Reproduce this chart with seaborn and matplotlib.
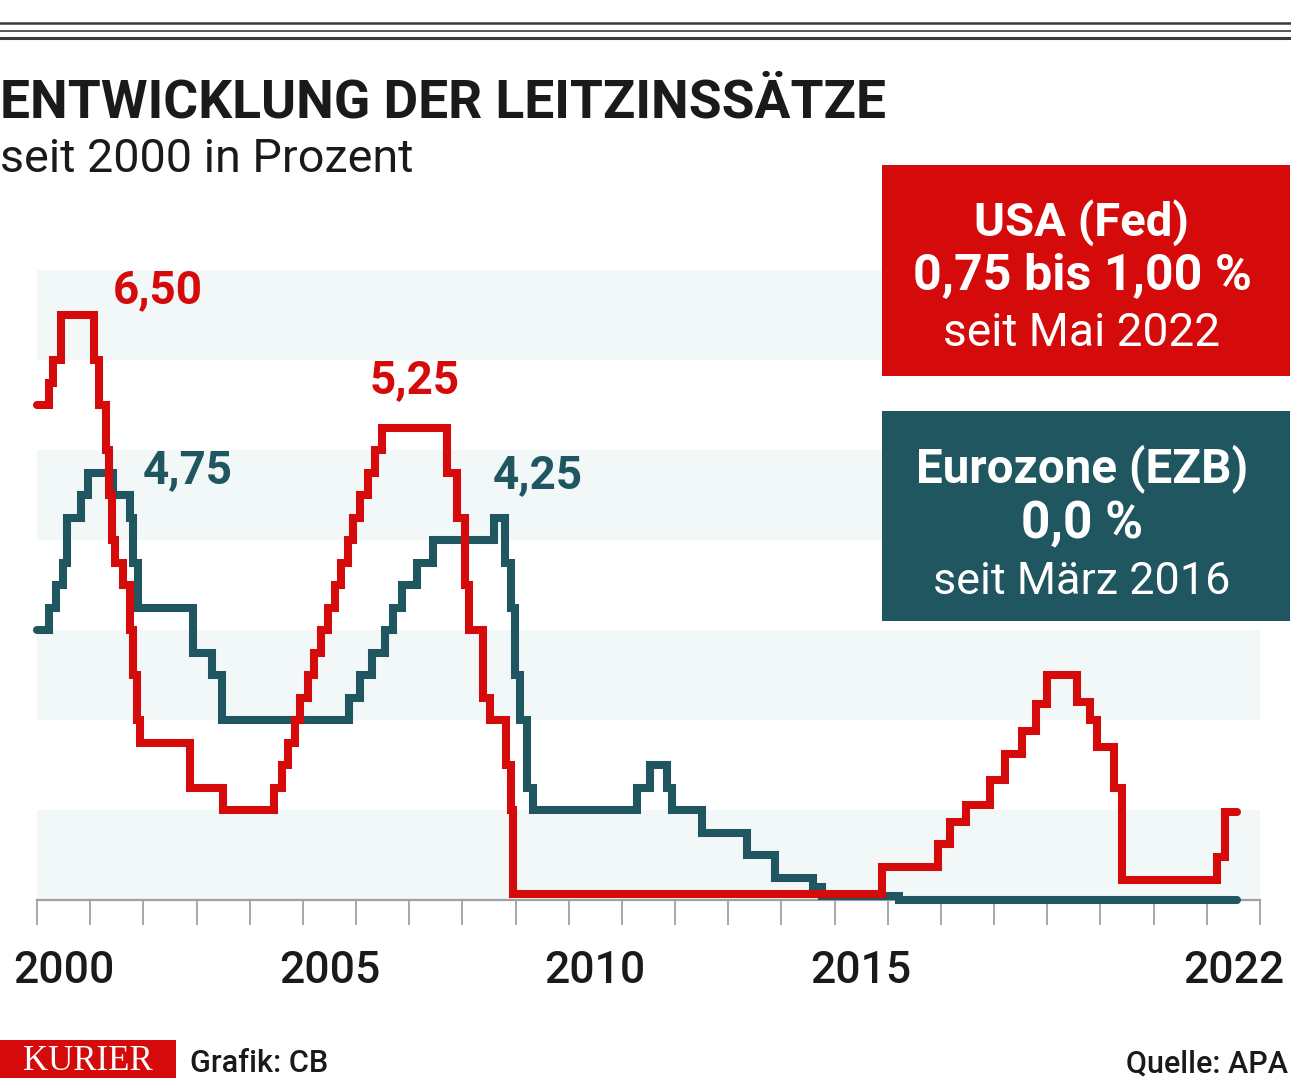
import matplotlib
matplotlib.use("Agg")
import matplotlib.pyplot as plt
import matplotlib.transforms as mtransforms
from matplotlib.patches import Rectangle
from matplotlib.lines import Line2D
import seaborn as sns
import pandas as pd

# ---------------- data ----------------
fed_x = [2000.00, 2000.22, 2000.30, 2000.45, 2001.08, 2001.17, 2001.30, 2001.36,
         2001.41, 2001.47, 2001.62, 2001.75, 2001.80, 2001.88, 2001.94, 2002.88,
         2003.50, 2004.45, 2004.60, 2004.72, 2004.86, 2004.95, 2005.09, 2005.21,
         2005.34, 2005.48, 2005.60, 2005.72, 2005.84, 2005.95, 2006.08, 2006.22,
         2006.35, 2006.48, 2007.71, 2007.89, 2008.05, 2008.12, 2008.38, 2008.52,
         2008.82, 2008.92, 2008.96, 2015.90, 2016.95, 2017.17, 2017.48, 2017.93,
         2018.20, 2018.52, 2018.78, 2019.00, 2019.55, 2019.81, 2019.94, 2020.25,
         2020.40, 2022.20, 2022.35, 2022.56]
fed_y = [5.50, 5.75, 6.00, 6.50, 6.00, 5.50, 5.00, 4.50,
         4.00, 3.75, 3.50, 3.00, 2.50, 2.00, 1.75, 1.25,
         1.00, 1.25, 1.50, 1.75, 2.00, 2.25, 2.50, 2.75,
         3.00, 3.25, 3.50, 3.75, 4.00, 4.25, 4.50, 4.75,
         5.00, 5.25, 4.75, 4.25, 3.50, 3.00, 2.25, 2.00,
         1.50, 1.00, 0.07, 0.37, 0.62, 0.87, 1.06, 1.33,
         1.62, 1.88, 2.18, 2.50, 2.20, 2.00, 1.70, 1.25,
         0.22, 0.48, 0.98, 0.98]

ezb_x = [2000.00, 2000.23, 2000.36, 2000.48, 2000.57, 2000.83, 2000.95, 2001.43,
         2001.74, 2001.80, 2001.90, 2002.93, 2003.29, 2003.47, 2005.87, 2006.07,
         2006.30, 2006.54, 2006.70, 2006.86, 2007.14, 2007.44, 2008.60, 2008.80,
         2008.92, 2008.99, 2009.08, 2009.21, 2009.32, 2011.28, 2011.52, 2011.84,
         2011.94, 2012.50, 2013.35, 2013.88, 2014.59, 2014.77, 2016.22, 2022.56]
ezb_y = [3.00, 3.25, 3.50, 3.75, 4.25, 4.50, 4.75, 4.50,
         4.25, 3.75, 3.25, 2.75, 2.50, 2.00, 2.25, 2.50,
         2.75, 3.00, 3.25, 3.50, 3.75, 4.00, 4.25, 3.75,
         3.25, 2.50, 2.00, 1.25, 1.00, 1.25, 1.50, 1.25,
         1.00, 0.75, 0.50, 0.25, 0.15, 0.05, 0.00, 0.00]

year_ticks = list(range(2000, 2024))
year_labels = ["2000", "2005", "2010", "2015", "2022"]

peak_labels = ["6,50", "5,25", "4,75", "4,25"]
peak_x = [2001.43, 2006.26, 2001.99, 2008.57]
peak_y = [6.63, 5.63, 4.63, 4.58]

title = "ENTWICKLUNG DER LEITZINSSÄTZE"
subtitle = "seit 2000 in Prozent"
usa_lines = ["USA (Fed)", "0,75 bis 1,00 %", "seit Mai 2022"]
ezb_lines = ["Eurozone (EZB)", "0,0 %", "seit März 2016"]

# ---------------- style ----------------
RED = "#d50b0b"
TEAL = "#1f5660"
BAND = "#f2f7f8"
DARK = "#1a1a1a"
GRAY = "#a0a0a0"

sns.set_theme(style="white")
plt.rcParams["font.family"] = ["Roboto", "DejaVu Sans"]

W, H = 1291, 1080
fig = plt.figure(figsize=(W / 100, H / 100), dpi=100)
fig.patch.set_facecolor("white")
renderer = fig.canvas.get_renderer()


def fy(y):
    return 1 - y / H


def fit_text(x, y, s, width, ha="left", weight="normal", color=DARK, family=None):
    kw = {}
    if family is not None:
        kw["family"] = family
    t = fig.text(x / W, fy(y), s, ha=ha, va="baseline", fontsize=20,
                 fontweight=weight, color=color, **kw)
    bb = t.get_window_extent(renderer)
    t.set_fontsize(20 * width / bb.width)
    return t


# ---------------- axes ----------------
x0, x1, y0, y1 = 37, 1260, 900, 270
ax = fig.add_axes([x0 / W, fy(y0), (x1 - x0) / W, (y0 - y1) / H])
ax.set_xlim(2000, 2023)
ax.set_ylim(0, 7)
ax.set_facecolor("none")
for lo in [0, 2, 4, 6]:
    ax.axhspan(lo, lo + 1, color=BAND, lw=0, zorder=0)

for side in ["top", "right", "left"]:
    ax.spines[side].set_visible(False)
ax.spines["bottom"].set_color(GRAY)
ax.spines["bottom"].set_linewidth(1.6)
ax.spines["bottom"].set_zorder(1)
ax.set_xticks(year_ticks)
ax.set_yticks([])
ax.tick_params(axis="x", direction="out", length=18, width=1.3, color=GRAY,
               labelbottom=False, bottom=True)

fed = pd.DataFrame({"jahr": fed_x, "zins": fed_y})
ezb = pd.DataFrame({"jahr": ezb_x, "zins": ezb_y})
sns.lineplot(data=ezb, x="jahr", y="zins", ax=ax, color=TEAL, linewidth=5.8,
             drawstyle="steps-post", legend=False, clip_on=False,
             solid_capstyle="round", solid_joinstyle="miter", zorder=3)
sns.lineplot(data=fed, x="jahr", y="zins", ax=ax, color=RED, linewidth=5.8,
             drawstyle="steps-post", legend=False, clip_on=False,
             solid_capstyle="round", solid_joinstyle="miter", zorder=4)
ax.set_xlabel("")
ax.set_ylabel("")

# year labels centred on the year interval
trans = mtransforms.blended_transform_factory(ax.transData, fig.transFigure)
for lab in year_labels:
    ax.text(int(lab) + 0.5, fy(983), lab, transform=trans, ha="center",
            va="baseline", fontsize=32, fontweight="medium", color=DARK)

# peak labels
peak_cols = [RED, RED, TEAL, TEAL]
for lab, px, py, c in zip(peak_labels, peak_x, peak_y, peak_cols):
    ax.text(px, py, lab, ha="left", va="baseline", fontsize=33,
            fontweight="bold", color=c)

# ---------------- header ----------------
for yy, lw in [(23, 1.8), (31, 1.2), (38, 2.2)]:
    fig.add_artist(Line2D([0, 1], [fy(yy), fy(yy)], transform=fig.transFigure,
                          color="#3a3a3a", lw=lw))
fit_text(0, 117, title, 884, weight="bold")
fit_text(0, 172, subtitle, 413)

# ---------------- legend boxes ----------------
fig.add_artist(Rectangle((882 / W, fy(376)), (1290 - 882) / W, (376 - 165) / H,
                         transform=fig.transFigure, color=RED, lw=0))
fig.add_artist(Rectangle((882 / W, fy(621)), (1290 - 882) / W, (621 - 411) / H,
                         transform=fig.transFigure, color=TEAL, lw=0))
cx = 1082
fit_text(cx, 236, usa_lines[0], 215, ha="center", weight="bold", color="white")
fit_text(cx, 290, usa_lines[1], 338, ha="center", weight="bold", color="white")
fit_text(cx, 346, usa_lines[2], 276, ha="center", color="white")
fit_text(cx, 482, ezb_lines[0], 332, ha="center", weight="bold", color="white")
fit_text(cx, 538, ezb_lines[1], 122, ha="center", weight="bold", color="white")
fit_text(cx, 594, ezb_lines[2], 297, ha="center", color="white")

# ---------------- footer ----------------
fig.add_artist(Rectangle((0, fy(1078)), 176 / W, 38 / H,
                         transform=fig.transFigure, color=RED, lw=0))
fig.text(88 / W, fy(1070), "KURIER", ha="center", va="baseline", fontsize=25,
         color="white", family=["Liberation Serif", "DejaVu Serif"])
fit_text(190, 1072, "Grafik: CB", 138, weight="medium")
fit_text(1288, 1072, "Quelle: APA", 162, ha="right", weight="medium")

fig.savefig("out.png", dpi=100, facecolor="white")
